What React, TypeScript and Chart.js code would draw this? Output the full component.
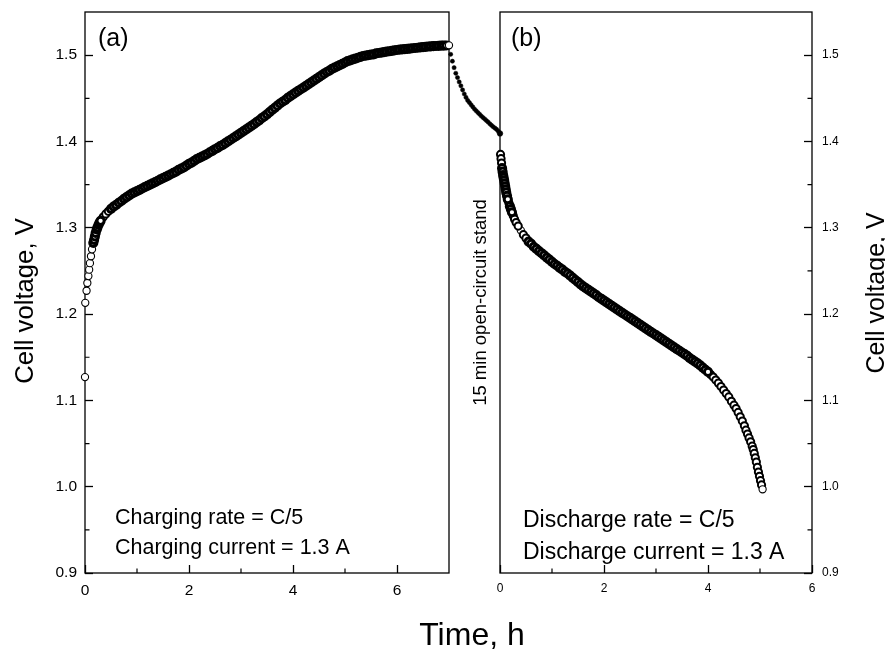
import React, { useEffect, useRef } from "react";
import { Chart, registerables } from "chart.js";

Chart.register(...registerables);

// ---------------- data ----------------
// Charge curve: time (h), cell voltage (V)
const chargePoints: [number, number][] = [
  [0.0, 1.127], [0.005, 1.213], [0.03, 1.227], [0.045, 1.236], [0.065, 1.244], [0.08, 1.2515],
  [0.095, 1.259], [0.115, 1.267], [0.135, 1.275], [0.16, 1.2825], [0.175, 1.286], [0.19, 1.29],
  [0.205, 1.294], [0.225, 1.298], [0.24, 1.3005], [0.26, 1.3035], [0.28, 1.306], [0.3, 1.308],
  [0.35, 1.3125], [0.4, 1.316], [0.45, 1.319], [0.5, 1.322], [0.55, 1.3245], [0.6, 1.3265],
  [0.65, 1.329], [0.7, 1.331], [0.75, 1.3335], [0.8, 1.3355], [0.85, 1.3375], [0.9, 1.3395],
  [0.95, 1.341], [1.0, 1.3425], [1.05, 1.344], [1.1, 1.3455], [1.15, 1.347], [1.2, 1.3485],
  [1.25, 1.35], [1.3, 1.3515], [1.35, 1.353], [1.4, 1.3545], [1.45, 1.356], [1.5, 1.3575],
  [1.55, 1.359], [1.6, 1.3605], [1.65, 1.362], [1.7, 1.3635], [1.75, 1.365], [1.8, 1.367],
  [1.85, 1.3685], [1.9, 1.37], [1.95, 1.372], [2.0, 1.374], [2.05, 1.3755], [2.1, 1.3775],
  [2.15, 1.3795], [2.2, 1.381], [2.25, 1.3825], [2.3, 1.384], [2.35, 1.3855], [2.4, 1.3875],
  [2.45, 1.389], [2.5, 1.391], [2.55, 1.3925], [2.6, 1.3945], [2.65, 1.396], [2.7, 1.398],
  [2.75, 1.4], [2.8, 1.402], [2.85, 1.404], [2.9, 1.406], [2.95, 1.408], [3.0, 1.41],
  [3.05, 1.412], [3.1, 1.414], [3.15, 1.416], [3.2, 1.418], [3.25, 1.42], [3.3, 1.4225],
  [3.35, 1.4245], [3.4, 1.427], [3.45, 1.429], [3.5, 1.4315], [3.55, 1.434], [3.6, 1.4365],
  [3.65, 1.439], [3.7, 1.4415], [3.75, 1.444], [3.8, 1.446], [3.85, 1.448], [3.9, 1.4505],
  [3.95, 1.4525], [4.0, 1.4545], [4.05, 1.4565], [4.1, 1.4585], [4.15, 1.4605], [4.2, 1.4625],
  [4.25, 1.4645], [4.3, 1.4665], [4.35, 1.4685], [4.4, 1.4705], [4.45, 1.4725], [4.5, 1.4745],
  [4.55, 1.4765], [4.6, 1.4785], [4.65, 1.4805], [4.7, 1.482], [4.75, 1.484], [4.8, 1.4855],
  [4.85, 1.487], [4.9, 1.4885], [4.95, 1.49], [5.0, 1.4915], [5.05, 1.493], [5.1, 1.494],
  [5.15, 1.495], [5.2, 1.496], [5.25, 1.497], [5.3, 1.498], [5.35, 1.499], [5.4, 1.4995],
  [5.45, 1.5], [5.5, 1.5005], [5.55, 1.501], [5.6, 1.502], [5.65, 1.5025], [5.7, 1.503],
  [5.75, 1.5035], [5.8, 1.504], [5.85, 1.5045], [5.9, 1.505], [5.95, 1.5055], [6.0, 1.506],
  [6.05, 1.5063], [6.1, 1.5066], [6.15, 1.507], [6.2, 1.5073], [6.25, 1.5076], [6.3, 1.508],
  [6.35, 1.5083], [6.4, 1.5086], [6.45, 1.509], [6.5, 1.5093], [6.55, 1.5096], [6.6, 1.51],
  [6.65, 1.5102], [6.7, 1.5104], [6.75, 1.5106], [6.8, 1.5108], [6.85, 1.511], [6.9, 1.5111],
  [6.95, 1.5112], [7.0, 1.5114],
];

// 15 min open-circuit stand: minutes, cell voltage (V)
const standPoints: [number, number][] = [
  [0.5, 1.501], [1.0, 1.493], [1.5, 1.4855], [2.0, 1.479], [2.5, 1.474], [3.0, 1.469],
  [3.5, 1.4645], [4.0, 1.4597], [4.5, 1.455], [5.0, 1.451], [5.5, 1.4475], [6.0, 1.445],
  [6.5, 1.4425], [7.0, 1.44], [7.5, 1.4375], [8.0, 1.4355], [8.5, 1.4335], [9.0, 1.4315],
  [9.5, 1.4295], [10.0, 1.4277], [10.5, 1.426], [11.0, 1.4242], [11.5, 1.4225], [12.0, 1.4205],
  [12.5, 1.4187], [13.0, 1.417], [13.5, 1.4155], [14.0, 1.414], [14.5, 1.4118], [15.0, 1.4093],
];

// Discharge curve: time (h), cell voltage (V)
const dischargePoints: [number, number][] = [
  [0.01, 1.385], [0.02, 1.38], [0.03, 1.375], [0.04, 1.369], [0.05, 1.365], [0.06, 1.361],
  [0.07, 1.358], [0.08, 1.355], [0.09, 1.3515], [0.1, 1.348], [0.11, 1.3445], [0.12, 1.341],
  [0.135, 1.337], [0.15, 1.333], [0.17, 1.329], [0.19, 1.325], [0.21, 1.3215], [0.23, 1.318],
  [0.255, 1.314], [0.28, 1.31], [0.31, 1.306], [0.35, 1.302], [0.4, 1.297], [0.45, 1.292],
  [0.5, 1.288], [0.55, 1.284], [0.6, 1.2815], [0.65, 1.278], [0.7, 1.2755], [0.75, 1.273],
  [0.8, 1.2705], [0.85, 1.268], [0.9, 1.2655], [0.95, 1.263], [1.0, 1.2605], [1.05, 1.258],
  [1.1, 1.256], [1.15, 1.2535], [1.2, 1.2515], [1.25, 1.249], [1.3, 1.247], [1.35, 1.2445],
  [1.4, 1.242], [1.45, 1.2395], [1.5, 1.237], [1.55, 1.2345], [1.6, 1.232], [1.65, 1.23],
  [1.7, 1.228], [1.75, 1.226], [1.8, 1.224], [1.85, 1.222], [1.9, 1.2195], [1.95, 1.2175],
  [2.0, 1.2155], [2.05, 1.2135], [2.1, 1.2115], [2.15, 1.2095], [2.2, 1.2075], [2.25, 1.2055],
  [2.3, 1.2035], [2.35, 1.2015], [2.4, 1.1995], [2.45, 1.1975], [2.5, 1.1955], [2.55, 1.1935],
  [2.6, 1.1915], [2.65, 1.1895], [2.7, 1.1875], [2.75, 1.1855], [2.8, 1.1835], [2.85, 1.1815],
  [2.9, 1.1795], [2.95, 1.1775], [3.0, 1.1755], [3.05, 1.1735], [3.1, 1.1715], [3.15, 1.1695],
  [3.2, 1.1675], [3.25, 1.1655], [3.3, 1.1635], [3.35, 1.1615], [3.4, 1.1595], [3.45, 1.1575],
  [3.5, 1.1555], [3.55, 1.1535], [3.6, 1.1515], [3.65, 1.149], [3.7, 1.147], [3.75, 1.145],
  [3.8, 1.143], [3.85, 1.1405], [3.9, 1.138], [3.95, 1.1355], [4.0, 1.133], [4.05, 1.13],
  [4.1, 1.127], [4.15, 1.1235], [4.2, 1.12], [4.25, 1.116], [4.3, 1.112], [4.35, 1.108],
  [4.4, 1.104], [4.45, 1.099], [4.5, 1.0945], [4.54, 1.0905], [4.58, 1.086], [4.62, 1.081],
  [4.66, 1.076], [4.7, 1.0705], [4.73, 1.0655], [4.76, 1.061], [4.79, 1.0565], [4.82, 1.052],
  [4.85, 1.047], [4.87, 1.043], [4.89, 1.0385], [4.91, 1.0335], [4.93, 1.0285], [4.95, 1.0225],
  [4.97, 1.017], [4.99, 1.012], [5.01, 1.007], [5.03, 1.002], [5.05, 0.997],
];

// axes
const yMajorTicks = [0.9, 1.0, 1.1, 1.2, 1.3, 1.4, 1.5];
const yMinorTicks = [0.95, 1.05, 1.15, 1.25, 1.35, 1.45];
const chargeXMajor = [0, 2, 4, 6];
const chargeXMinor = [1, 3, 5];
const dischargeXMajor = [0, 2, 4, 6];
const dischargeXMinor = [1, 3, 5];
const Y_MIN = 0.9;
const Y_MAX = 1.55;
const CHARGE_X_MAX = 7;
const DISCHARGE_X_MAX = 6;
const STAND_MINUTES = 15;

// texts
const yTitle = "Cell voltage, V";
const xTitle = "Time, h";
const labelA = "(a)";
const labelB = "(b)";
const chargeNotes = ["Charging rate = C/5", "Charging current = 1.3 A"];
const dischargeNotes = ["Discharge rate = C/5", "Discharge current = 1.3 A"];
const standNote = "15 min open-circuit stand";

// ---------------- layout ----------------
const W = 885;
const H = 650;
const AREA_TOP = 12;
const AREA_BOTTOM = 573;
const LEFT_L = 85;
const LEFT_R = 449;
const RIGHT_L = 500;
const RIGHT_R = 812;
const FONT = "'Liberation Sans', Arial, Helvetica, sans-serif";

function drawText(
  ctx: CanvasRenderingContext2D,
  text: string,
  x: number,
  y: number,
  size: number,
  align: CanvasTextAlign = "left",
  rotate = 0
) {
  ctx.save();
  ctx.translate(x, y);
  if (rotate) ctx.rotate(rotate);
  ctx.font = `${size}px ${FONT}`;
  ctx.fillStyle = "#000";
  ctx.textAlign = align;
  ctx.textBaseline = "alphabetic";
  ctx.fillText(text, 0, 0);
  ctx.restore();
}

function framePlugin(xMinor: number[], yMinor: number[], ySide: "left" | "right", texts: (ctx: CanvasRenderingContext2D) => void) {
  return {
    id: "frameDecor",
    beforeDatasetsDraw(chart: any) {
      const { ctx, chartArea: a } = chart;
      const xs = chart.scales.x;
      const ys = chart.scales.y;
      ctx.save();
      ctx.strokeStyle = "#000";
      ctx.lineWidth = 1.3;
      ctx.strokeRect(a.left, a.top, a.right - a.left, a.bottom - a.top);
      ctx.lineWidth = 1.2;
      ctx.beginPath();
      for (const v of xMinor) {
        const px = xs.getPixelForValue(v);
        ctx.moveTo(px, a.bottom);
        ctx.lineTo(px, a.bottom - 4.5);
      }
      for (const v of yMinor) {
        const py = ys.getPixelForValue(v);
        if (ySide === "left") {
          ctx.moveTo(a.left, py);
          ctx.lineTo(a.left + 4.5, py);
        } else {
          ctx.moveTo(a.right, py);
          ctx.lineTo(a.right - 4.5, py);
        }
      }
      ctx.stroke();
      ctx.restore();
    },
    afterDraw(chart: any) {
      texts(chart.ctx);
    },
  };
}

// Crowding of consecutive markers (px): where the recorded points crowd together the open
// circles merge into a solid black band in the original, so those markers get a heavier outline.
function crowding(points: [number, number][], pxPerX: number, pxPerY: number): number[] {
  return points.map((p, i) => {
    let d = Infinity;
    for (const j of [i - 1, i + 1]) {
      if (j < 0 || j >= points.length) continue;
      const q = points[j];
      d = Math.min(d, Math.hypot((q[0] - p[0]) * pxPerX, (q[1] - p[1]) * pxPerY));
    }
    return d;
  });
}

const PX_PER_VOLT = (AREA_BOTTOM - AREA_TOP) / (Y_MAX - Y_MIN);

// one series drawn as marker groups; the first dataset is painted on top
function markerDatasets(label: string, points: [number, number][], pxPerX: number) {
  const gaps = crowding(points, pxPerX, PX_PER_VOLT);
  const last = points.length - 1;
  const groups = [
    { width: 1.1, pick: (d: number, i: number) => i === last },
    { width: 3.0, pick: (d: number, i: number) => i !== last && d < 3.6 },
    { width: 2.0, pick: (d: number, i: number) => i !== last && d >= 3.6 && d < 5 },
    { width: 1.1, pick: (d: number, i: number) => i !== last && d >= 5 },
  ];
  return groups.map((g, gi) => ({
    label: `${label}${gi ? ` (${gi})` : ""}`,
    data: points.filter((_, i) => g.pick(gaps[i], i)).map(([x, y]) => ({ x, y })),
    pointRadius: 3.6,
    pointBackgroundColor: "#fff",
    pointBorderColor: "#000",
    pointBorderWidth: g.width,
    borderWidth: g.width,
    showLine: false,
    clip: false,
  }));
}

function yScale(position: "left" | "right", width: number, size: number, padding: number) {
  return {
    type: "linear",
    position,
    min: Y_MIN,
    max: Y_MAX,
    afterBuildTicks: (s: any) => {
      s.ticks = yMajorTicks.map((value) => ({ value }));
    },
    afterFit: (s: any) => {
      s.width = width;
      s.paddingTop = 0;
      s.paddingBottom = 0;
    },
    grid: { drawOnChartArea: false, drawTicks: true, tickLength: -8, tickWidth: 1.3, tickColor: "#000" },
    border: { display: false },
    ticks: {
      padding,
      color: "#000",
      font: { family: FONT, size },
      autoSkip: false,
      callback: (v: any) => Number(v).toFixed(1),
    },
  };
}

function xScale(max: number, major: number[], size: number, padding: number) {
  return {
    type: "linear",
    position: "bottom",
    min: 0,
    max,
    afterBuildTicks: (s: any) => {
      s.ticks = major.map((value) => ({ value }));
    },
    afterFit: (s: any) => {
      s.height = H - AREA_BOTTOM;
      s.paddingLeft = 0;
      s.paddingRight = 0;
    },
    grid: { drawOnChartArea: false, drawTicks: true, tickLength: -8, tickWidth: 1.3, tickColor: "#000" },
    border: { display: false },
    ticks: {
      padding,
      color: "#000",
      font: { family: FONT, size },
      autoSkip: false,
      maxRotation: 0,
      callback: (v: any) => String(v),
    },
  };
}

const baseOptions = {
  responsive: false,
  animation: false,
  devicePixelRatio: 1,
  events: [],
  plugins: { legend: { display: false }, tooltip: { enabled: false } },
};

function chargeConfig(): any {
  return {
    type: "scatter",
    data: {
      datasets: markerDatasets("Charge", chargePoints, (LEFT_R - LEFT_L) / CHARGE_X_MAX),
    },
    options: {
      ...baseOptions,
      layout: { padding: { left: 0, top: AREA_TOP, right: W - LEFT_R, bottom: 0 } },
      scales: {
        x: xScale(CHARGE_X_MAX, chargeXMajor, 15.5, 16.2),
        y: yScale("left", LEFT_L, 15.5, 16),
      },
    },
    plugins: [
      framePlugin(chargeXMinor, yMinorTicks, "left", (ctx) => {
        drawText(ctx, labelA, 98, 46, 25);
        drawText(ctx, chargeNotes[0], 115, 524, 21.5);
        drawText(ctx, chargeNotes[1], 115, 554, 21.5);
        drawText(ctx, yTitle, 32.5, 301, 25.7, "center", -Math.PI / 2);
        drawText(ctx, xTitle, 472, 645, 32, "center");
      }),
    ],
  };
}

function standConfig(): any {
  return {
    type: "scatter",
    data: {
      datasets: [
        {
          label: "Open-circuit stand",
          data: standPoints.map(([x, y]) => ({ x, y })),
          pointRadius: standPoints.map((_, i) => (i === standPoints.length - 1 ? 2.8 : 2.1)),
          pointBackgroundColor: "#000",
          pointBorderColor: "#000",
          pointBorderWidth: 0.5,
          showLine: false,
          clip: false,
        },
      ],
    },
    options: {
      ...baseOptions,
      layout: { padding: { left: LEFT_R, top: AREA_TOP, right: W - RIGHT_L, bottom: H - AREA_BOTTOM } },
      scales: {
        x: { type: "linear", min: 0, max: STAND_MINUTES, display: false },
        y: { type: "linear", min: Y_MIN, max: Y_MAX, display: false },
      },
    },
    plugins: [
      {
        id: "standNote",
        afterDraw(chart: any) {
          drawText(chart.ctx, standNote, 485.5, 302.5, 18.5, "center", -Math.PI / 2);
        },
      },
    ],
  };
}

function dischargeConfig(): any {
  return {
    type: "scatter",
    data: {
      datasets: markerDatasets("Discharge", dischargePoints, (RIGHT_R - RIGHT_L) / DISCHARGE_X_MAX),
    },
    options: {
      ...baseOptions,
      layout: { padding: { left: RIGHT_L, top: AREA_TOP, right: 0, bottom: 0 } },
      scales: {
        x: xScale(DISCHARGE_X_MAX, dischargeXMajor, 12, 16.3),
        y: yScale("right", W - RIGHT_R, 12, 18),
      },
    },
    plugins: [
      framePlugin(dischargeXMinor, yMinorTicks, "right", (ctx) => {
        drawText(ctx, labelB, 511, 46, 25);
        drawText(ctx, dischargeNotes[0], 523, 526.5, 23);
        drawText(ctx, dischargeNotes[1], 523, 558.5, 23);
        drawText(ctx, yTitle, 884, 293, 25, "center", -Math.PI / 2);
      }),
    ],
  };
}

export default function App() {
  const refA = useRef<HTMLCanvasElement>(null);
  const refB = useRef<HTMLCanvasElement>(null);
  const refC = useRef<HTMLCanvasElement>(null);

  useEffect(() => {
    const charts: Chart[] = [];
    if (refA.current) charts.push(new Chart(refA.current, chargeConfig()));
    if (refC.current) charts.push(new Chart(refC.current, standConfig()));
    if (refB.current) charts.push(new Chart(refB.current, dischargeConfig()));
    return () => charts.forEach((c) => c.destroy());
  }, []);

  const canvasStyle: React.CSSProperties = { position: "absolute", left: 0, top: 0, width: W, height: H };

  return (
    <div style={{ position: "absolute", left: 0, top: 0, width: W, height: H, background: "#fff" }}>
      <canvas ref={refA} width={W} height={H} style={canvasStyle} />
      <canvas ref={refC} width={W} height={H} style={canvasStyle} />
      <canvas ref={refB} width={W} height={H} style={canvasStyle} />
    </div>
  );
}
